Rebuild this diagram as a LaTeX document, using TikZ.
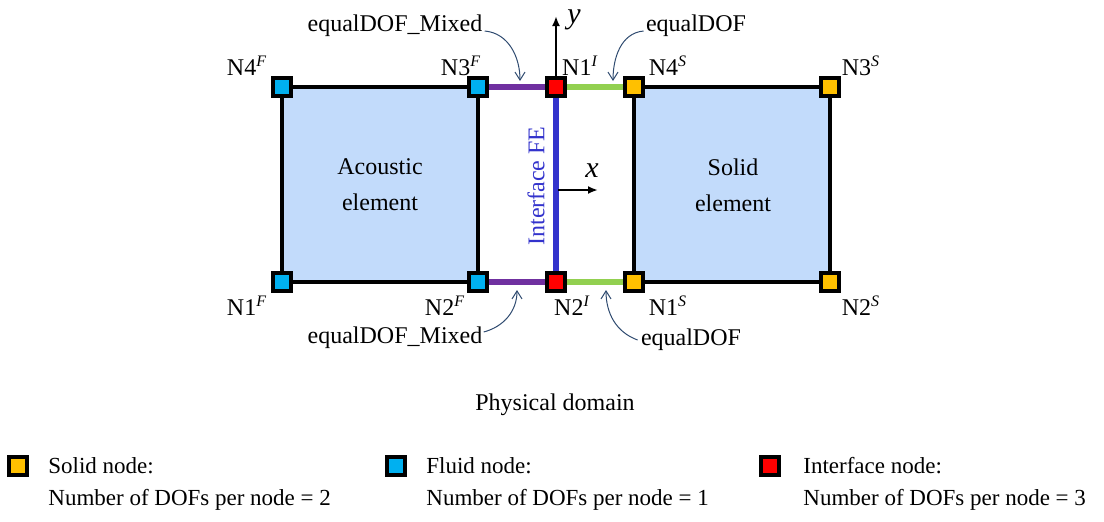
\documentclass[tikz,border=0pt]{standalone}
\usepackage{fontspec}
\setmainfont{Liberation Serif}
\usetikzlibrary{arrows.meta}

\definecolor{fluidcol}{HTML}{00B0F0}
\definecolor{solidcol}{HTML}{FFC000}
\definecolor{ifacecol}{HTML}{FF0000}
\definecolor{elemfill}{HTML}{C2DBFB}
\definecolor{mixedcol}{HTML}{7030A0}
\definecolor{eqcol}{HTML}{92D050}
\definecolor{fecol}{HTML}{3333CC}
\definecolor{callcol}{HTML}{2F4B70}

\tikzset{
  dof/.style={rectangle, draw=black, line width=2pt, minimum size=9pt, inner sep=0pt},
  fnode/.style={dof, fill=fluidcol},
  snode/.style={dof, fill=solidcol},
  inode/.style={dof, fill=ifacecol},
  elem/.style={draw=black, line width=2pt, fill=elemfill},
  txt/.style={font=\fontsize{12}{14}\selectfont, inner sep=0pt},
  legtxt/.style={font=\fontsize{11.5}{14}\selectfont, inner sep=0pt, anchor=west},
  link/.style={line width=3pt},
  callout/.style={draw=callcol, line width=0.5pt, -{Straight Barb[length=4pt,width=5pt]}},
  axis/.style={line width=1pt, -{Latex[length=5pt,width=4pt]}},
}

\begin{document}
\begin{tikzpicture}[x=0.5pt, y=-0.5pt]
	\useasboundingbox (0,0) rectangle (1104,521);
	%\draw[help lines] (0,0) grid[step=50] (1104,521);

	% elements
	\draw[elem] (282,87) rectangle (478,282);
	\draw[elem] (634,87) rectangle (830,282);
	\node[txt, align=center] (acoustic) at (380,185) {Acoustic\\[4pt]element};
	\node[txt, align=center] (solid) at (733,185) {Solid\\[4pt]element};

	% links between the elements (under the nodes)
	\coordinate (c3f) at (478,87);
	\coordinate (c2f) at (478,282);
	\coordinate (c1i) at (556,87);
	\coordinate (c2i) at (556,282);
	\coordinate (c4s) at (634,87);
	\coordinate (c1s) at (634,282);
	\draw[link, mixedcol] (c3f) -- (c1i);
	\draw[link, mixedcol] (c2f) -- (c2i);
	\draw[link, eqcol] (c1i) -- (c4s);
	\draw[link, eqcol] (c2i) -- (c1s);
	\draw[link, fecol] (c1i) -- (c2i);
	\node[txt, text=fecol, rotate=90] (fe) at (536,186) {Interface FE};

	% nodes
	\node[fnode] (n4f) at (282,87) {};
	\node[fnode] (n3f) at (c3f) {};
	\node[fnode] (n1f) at (282,282) {};
	\node[fnode] (n2f) at (c2f) {};
	\node[inode] (n1i) at (c1i) {};
	\node[inode] (n2i) at (c2i) {};
	\node[snode] (n4s) at (c4s) {};
	\node[snode] (n3s) at (830,87) {};
	\node[snode] (n1s) at (c1s) {};
	\node[snode] (n2s) at (830,282) {};

	% axes
	\coordinate (yend) at (556,16);
	\coordinate (xo) at (558,190);
	\coordinate (xend) at (598,190);
	\draw[axis] (n1i.north) -- (yend);
	\draw[axis] (xo) -- (xend);
	\node[font=\fontsize{15}{15}\selectfont\itshape, inner sep=0pt] (ylab) at (574,20) {y};
	\node[font=\fontsize{15}{15}\selectfont\itshape, inner sep=0pt] (xlab) at (592,171) {x};

	% node labels
	\node[txt] (l4f) at (247,66) {N4\textsuperscript{\itshape F}};
	\node[txt] (l3f) at (461,66) {N3\textsuperscript{\itshape F}};
	\node[txt] (l1i) at (580,66) {N1\textsuperscript{\itshape I}};
	\node[txt] (l4s) at (668,66) {N4\textsuperscript{\itshape S}};
	\node[txt] (l3s) at (861,66) {N3\textsuperscript{\itshape S}};
	\node[txt] (l1f) at (247,306) {N1\textsuperscript{\itshape F}};
	\node[txt] (l2f) at (445,306) {N2\textsuperscript{\itshape F}};
	\node[txt] (l2i) at (572,306) {N2\textsuperscript{\itshape I}};
	\node[txt] (l1s) at (668,306) {N1\textsuperscript{\itshape S}};
	\node[txt] (l2s) at (861,306) {N2\textsuperscript{\itshape S}};

	% constraints
	\node[txt] (mixtop) at (395,26) {equalDOF\_Mixed};
	\node[txt] (eqtop) at (696,26) {equalDOF};
	\node[txt] (mixbot) at (395,338) {equalDOF\_Mixed};
	\node[txt] (eqbot) at (691,340) {equalDOF};
	\coordinate (mt) at (520,81);
	\coordinate (et) at (613,81);
	\coordinate (mb) at (517,290);
	\coordinate (eb) at (606,290);
	\draw[callout] (mixtop.east) ++(2,5) to[out=-5, in=90] (mt);
	\draw[callout] (eqtop.west) ++(-2,5) to[out=185, in=90] (et);
	\draw[callout] (mixbot.east) ++(1,-6) to[out=15, in=-90] (mb);
	\draw[callout] (eqbot.west) ++(-3,0) to[out=160, in=-90] (eb);

	\node[txt] (domain) at (555,405) {Physical domain};

	% legend
	\node[snode] (legs) at (18,466) {};
	\node[legtxt] (legst) at (48,466) {Solid node:};
	\node[legtxt] (legsd) at (48,500) {Number of DOFs per node = 2};
	\node[fnode] (legf) at (396,466) {};
	\node[legtxt] (legft) at (426,466) {Fluid node:};
	\node[legtxt] (legfd) at (426,500) {Number of DOFs per node = 1};
	\node[inode] (legi) at (770,466) {};
	\node[legtxt] (legit) at (803,466) {Interface node:};
	\node[legtxt] (legid) at (803,500) {Number of DOFs per node = 3};
\end{tikzpicture}
\end{document}
